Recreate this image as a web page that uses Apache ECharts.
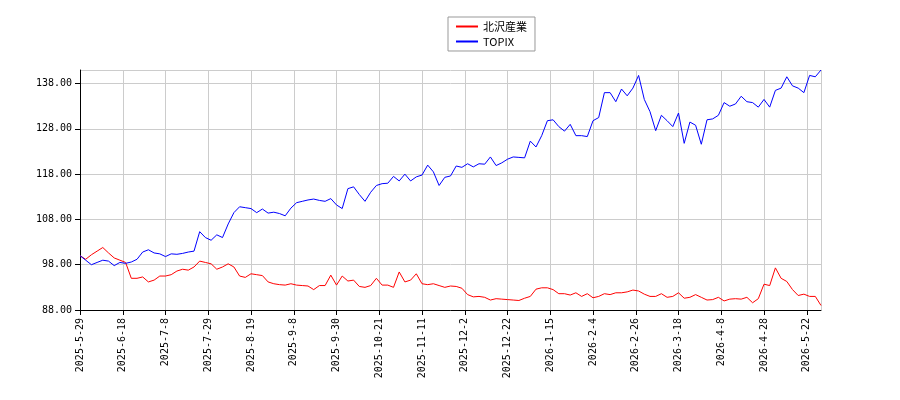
<!DOCTYPE html>
<html>
<head>
<meta charset="utf-8">
<script src="https://cdn.jsdelivr.net/npm/echarts@6/dist/echarts.min.js"></script>
<style>
  html, body { margin: 0; padding: 0; background: #fff; }
  #chart { width: 900px; height: 400px; }
</style>
</head>
<body>
<div id="chart"></div>
<script>
  // tick labels every 15 trading days
  const tickLabels = ["2025-5-29", "2025-6-18", "2025-7-8", "2025-7-29", "2025-8-19", "2025-9-8",
    "2025-9-30", "2025-10-21", "2025-11-11", "2025-12-2", "2025-12-22", "2026-1-15", "2026-2-4",
    "2026-2-26", "2026-3-18", "2026-4-8", "2026-4-28", "2026-5-22"];

  // values sampled every 2 trading days (index = 2 * position)
  const kitazawa = [100, 99.2, 100.2, 101, 101.8, 100.6, 99.5, 99, 98.5, 95, 95, 95.3, 94.2, 94.6, 95.5,
    95.5, 95.8, 96.6, 97, 96.8, 97.5, 98.8, 98.5, 98.2, 97, 97.5, 98.2, 97.5, 95.5, 95.2, 96, 95.8, 95.6,
    94.2, 93.8, 93.6, 93.5, 93.8, 93.5, 93.4, 93.3, 92.5, 93.4, 93.4, 95.7, 93.5, 95.5, 94.4, 94.6, 93.2,
    93, 93.4, 95, 93.5, 93.5, 93, 96.4, 94.2, 94.6, 96, 93.8, 93.6, 93.8, 93.4, 93, 93.3, 93.2, 92.8, 91.4,
    90.9, 91, 90.8, 90.2, 90.5, 90.4, 90.3, 90.2, 90.1, 90.6, 91, 92.6, 92.9, 92.9, 92.5, 91.6, 91.6, 91.3,
    91.8, 91, 91.6, 90.7, 91, 91.6, 91.4, 91.8, 91.8, 92, 92.4, 92.2, 91.5, 91, 91, 91.6, 90.8, 91, 91.8,
    90.6, 90.8, 91.4, 90.8, 90.2, 90.3, 90.8, 90, 90.4, 90.5, 90.4, 90.8, 89.6, 90.5, 93.7, 93.4, 97.3, 95,
    94.3, 92.5, 91.2, 91.5, 91, 91, 89];

  const topix = [100, 99, 98, 98.5, 99, 98.8, 97.8, 98.5, 98.3, 98.6, 99.2, 100.8, 101.3, 100.6, 100.4,
    99.8, 100.4, 100.3, 100.5, 100.8, 101, 105.3, 104, 103.4, 104.6, 104, 107, 109.5, 110.8, 110.6, 110.4,
    109.5, 110.3, 109.4, 109.6, 109.3, 108.8, 110.5, 111.7, 112, 112.3, 112.5, 112.2, 112, 112.6, 111.2,
    110.4, 114.8, 115.2, 113.5, 112, 114, 115.5, 115.9, 116, 117.5, 116.5, 118, 116.5, 117.4, 117.8, 120,
    118.5, 115.5, 117.3, 117.6, 119.8, 119.5, 120.3, 119.6, 120.3, 120.2, 121.8, 119.9, 120.5, 121.3, 121.8,
    121.7, 121.6, 125.3, 124, 126.5, 129.8, 130, 128.5, 127.5, 129, 126.5, 126.5, 126.3, 129.8, 130.5, 136,
    136, 134, 136.8, 135.3, 137, 139.8, 134.5, 131.8, 127.6, 131, 129.8, 128.5, 131.5, 124.8, 129.5, 128.8,
    124.6, 130, 130.2, 131, 133.8, 133, 133.5, 135.2, 134, 133.8, 132.8, 134.5, 132.8, 136.5, 137, 139.5,
    137.5, 137, 136, 139.8, 139.5, 141];

  const toPoints = (vals) => vals.map((v, k) => [k * 2, v]);

  const chart = echarts.init(document.getElementById("chart"));
  chart.setOption({
    animation: false,
    textStyle: { fontFamily: "DejaVu Sans Mono" },
    legend: {
      top: 17,
      left: 448,
      orient: "vertical",
      itemWidth: 22,
      itemHeight: 2,
      itemGap: 4,
      padding: [4, 8],
      borderColor: "#999",
      borderWidth: 1,
      textStyle: { fontSize: 11, color: "#000", fontFamily: "Noto Sans CJK JP" },
      data: [
        { name: "北沢産業", icon: "rect" },
        { name: "TOPIX", icon: "rect" },
      ],
    },
    grid: { left: 80, right: 79, top: 70, bottom: 90 },
    xAxis: {
      type: "value",
      min: 0,
      max: 260,
      interval: 15,
      axisLine: { lineStyle: { color: "#000" } },
      axisTick: { lineStyle: { color: "#000" } },
      axisLabel: {
        rotate: 90,
        fontSize: 10,
        color: "#000",
        showMaxLabel: false,
        formatter: (v) => tickLabels[v / 15] || "",
      },
      splitLine: { show: true, lineStyle: { color: "#ccc" } },
    },
    yAxis: {
      type: "value",
      min: 88,
      max: 141,
      interval: 10,
      axisLine: { show: true, lineStyle: { color: "#000" } },
      axisTick: { show: true, lineStyle: { color: "#000" } },
      axisLabel: {
        fontSize: 10,
        color: "#000",
        showMaxLabel: false,
        formatter: (v) => v.toFixed(2),
      },
      splitLine: { lineStyle: { color: "#ccc" } },
    },
    series: [
      {
        name: "北沢産業",
        type: "line",
        symbol: "none",
        data: toPoints(kitazawa),
        lineStyle: { width: 1, color: "#ff0000" },
        itemStyle: { color: "#ff0000" },
      },
      {
        name: "TOPIX",
        type: "line",
        symbol: "none",
        data: toPoints(topix),
        lineStyle: { width: 1, color: "#0000ff" },
        itemStyle: { color: "#0000ff" },
      },
    ],
  });
</script>
</body>
</html>
